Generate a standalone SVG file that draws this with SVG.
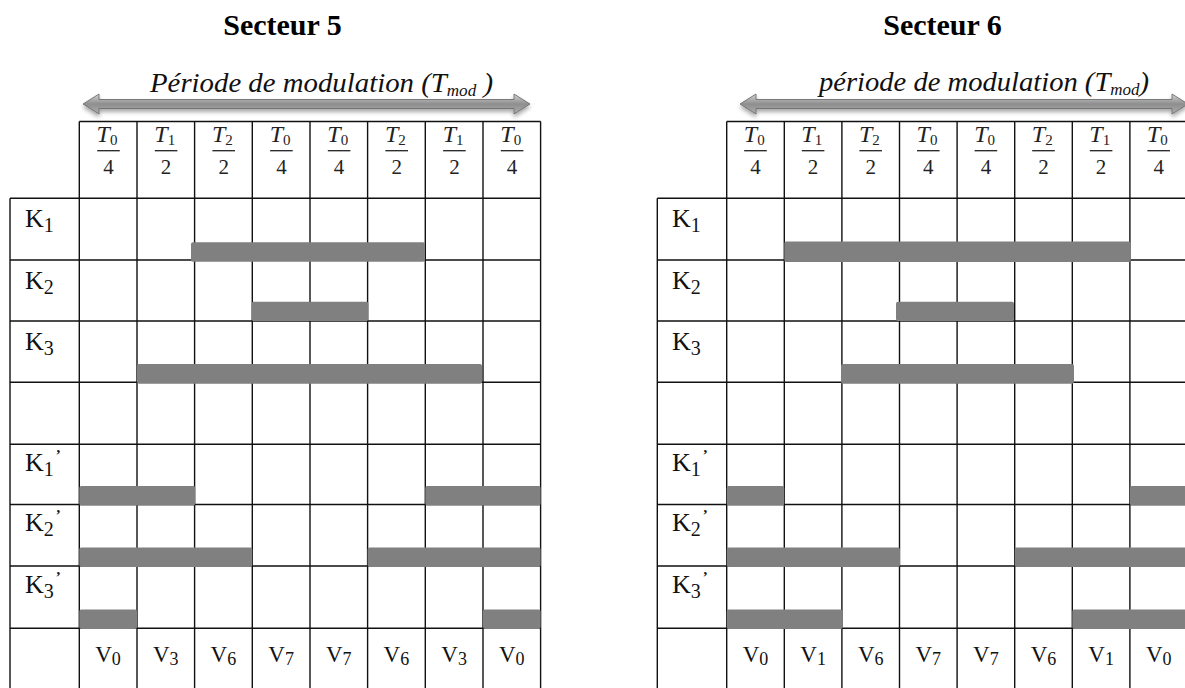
<svg xmlns="http://www.w3.org/2000/svg" width="1185" height="688" viewBox="0 0 1185 688">
<style>
.title{font-family:"Liberation Serif",serif;font-weight:bold;font-size:30px;fill:#000;text-anchor:middle}
.per{font-family:"Liberation Serif",serif;font-style:italic;font-size:27px;fill:#111}
.grid{stroke:#111;stroke-width:1.4;fill:none}
.bar{fill:#808080}
.num{font-family:"Liberation Serif",serif;font-size:24px;fill:#222;text-anchor:middle}
.den{font-family:"Liberation Serif",serif;font-size:21px;fill:#222;text-anchor:middle}
.fb{stroke:#222;stroke-width:1.3}
.lab{font-family:"Liberation Serif",serif;font-size:26px;fill:#111}
.pr{font-size:15px;font-weight:bold}
.vl{font-family:"Liberation Serif",serif;font-size:23px;fill:#111;text-anchor:middle}
.arrow{fill:url(#ag);stroke:#6e6e6e;stroke-width:0.9;filter:url(#sh)}
</style>
<defs>
<linearGradient id="ag" x1="0" y1="0" x2="0" y2="1">
<stop offset="0" stop-color="#d4d4d4"/>
<stop offset="0.5" stop-color="#8e8e8e"/>
<stop offset="1" stop-color="#adadad"/>
</linearGradient>
<filter id="sh" x="-5%" y="-100%" width="110%" height="300%">
<feGaussianBlur in="SourceAlpha" stdDeviation="2"/>
<feOffset dy="3" result="b"/>
<feComponentTransfer><feFuncA type="linear" slope="0.35"/></feComponentTransfer>
<feMerge><feMergeNode/><feMergeNode in="SourceGraphic"/></feMerge>
</filter>
</defs>
<rect width="1185" height="688" fill="#fff"/>

<!-- ===== Secteur 5 ===== -->
<g id="secteur5">
<text class="title" x="282.5" y="35">Secteur 5</text>
<g id="s5-arrow">
<path class="arrow" d="M83,104 L99,94 L99,99.5 L514,99.5 L514,94 L530,104 L514,114 L514,108.5 L99,108.5 L99,114 Z"/>
<text class="per" x="150" y="92" textLength="343" lengthAdjust="spacingAndGlyphs">Période de modulation (<tspan>T</tspan><tspan font-size="16" dy="4">mod</tspan><tspan dy="-4"> )</tspan></text>
</g>
<g id="s5-grid" class="grid">
<path d="M79.3,121.5 H540.6"/>
<path d="M10,198.3 H540.6 M10,260 H540.6 M10,321 H540.6 M10,382.3 H540.6 M10,444.3 H540.6 M10,504.5 H540.6 M10,566 H540.6 M10,628.3 H540.6 M10,690 H540.6"/>
<path d="M10,198.3 V690 M79.3,121.5 V690 M137,121.5 V690 M194.6,121.5 V690 M252.3,121.5 V690 M310,121.5 V690 M367.6,121.5 V690 M425.3,121.5 V690 M483,121.5 V690 M540.6,121.5 V690"/>
</g>
<g id="s5-head">
<text class="num" x="107" y="142"><tspan font-style="italic">T</tspan><tspan font-size="15" dy="3">0</tspan></text><line class="fb" x1="97.2" y1="150.7" x2="119.8" y2="150.7"/><text class="den" x="108.5" y="174">4</text>
<text class="num" x="164.8" y="142"><tspan font-style="italic">T</tspan><tspan font-size="15" dy="3">1</tspan></text><line class="fb" x1="154.8" y1="150.7" x2="177.4" y2="150.7"/><text class="den" x="166.1" y="174">2</text>
<text class="num" x="222.4" y="142"><tspan font-style="italic">T</tspan><tspan font-size="15" dy="3">2</tspan></text><line class="fb" x1="212.4" y1="150.7" x2="235" y2="150.7"/><text class="den" x="223.7" y="174">2</text>
<text class="num" x="280.1" y="142"><tspan font-style="italic">T</tspan><tspan font-size="15" dy="3">0</tspan></text><line class="fb" x1="270.1" y1="150.7" x2="292.7" y2="150.7"/><text class="den" x="281.4" y="174">4</text>
<text class="num" x="337.8" y="142"><tspan font-style="italic">T</tspan><tspan font-size="15" dy="3">0</tspan></text><line class="fb" x1="327.8" y1="150.7" x2="350.4" y2="150.7"/><text class="den" x="339.1" y="174">4</text>
<text class="num" x="395.4" y="142"><tspan font-style="italic">T</tspan><tspan font-size="15" dy="3">2</tspan></text><line class="fb" x1="385.4" y1="150.7" x2="408" y2="150.7"/><text class="den" x="396.7" y="174">2</text>
<text class="num" x="453.1" y="142"><tspan font-style="italic">T</tspan><tspan font-size="15" dy="3">1</tspan></text><line class="fb" x1="443.1" y1="150.7" x2="465.7" y2="150.7"/><text class="den" x="454.4" y="174">2</text>
<text class="num" x="510.8" y="142"><tspan font-style="italic">T</tspan><tspan font-size="15" dy="3">0</tspan></text><line class="fb" x1="500.8" y1="150.7" x2="523.4" y2="150.7"/><text class="den" x="512.1" y="174">4</text>
</g>
<g id="s5-labels">
<text class="lab" x="25" y="227">K<tspan font-size="20" dy="4.5">1</tspan></text>
<text class="lab" x="25" y="289">K<tspan font-size="20" dy="4.5">2</tspan></text>
<text class="lab" x="25" y="350">K<tspan font-size="20" dy="4.5">3</tspan></text>
<text class="lab" x="25" y="471">K<tspan font-size="20" dy="4.5">1</tspan><tspan class="pr" dx="2" dy="-16">’</tspan></text>
<text class="lab" x="25" y="531">K<tspan font-size="20" dy="4.5">2</tspan><tspan class="pr" dx="2" dy="-16">’</tspan></text>
<text class="lab" x="25" y="593">K<tspan font-size="20" dy="4.5">3</tspan><tspan class="pr" dx="2" dy="-16">’</tspan></text>
</g>
<g id="s5-bars">
<rect class="bar" x="191" y="242.3" width="234" height="19.5" rx="2"/>
<rect class="bar" x="251.5" y="301.7" width="117" height="19.3" rx="2"/>
<rect class="bar" x="137" y="364" width="345" height="19.8" rx="2"/>
<rect class="bar" x="79.3" y="486" width="116" height="19.5" rx="2"/>
<rect class="bar" x="425.3" y="486" width="115.3" height="19.5" rx="2"/>
<rect class="bar" x="79.3" y="547.5" width="173" height="19.5" rx="2"/>
<rect class="bar" x="367.6" y="547.5" width="173" height="19.5" rx="2"/>
<rect class="bar" x="79.3" y="609.5" width="57.7" height="19.5" rx="2"/>
<rect class="bar" x="483" y="609.5" width="57.6" height="19.5" rx="2"/>
</g>
<g id="s5-vectors">
<text class="vl" x="108" y="662">V<tspan font-size="18" dy="3">0</tspan></text>
<text class="vl" x="165.8" y="662">V<tspan font-size="18" dy="3">3</tspan></text>
<text class="vl" x="223.4" y="662">V<tspan font-size="18" dy="3">6</tspan></text>
<text class="vl" x="281.1" y="662">V<tspan font-size="18" dy="3">7</tspan></text>
<text class="vl" x="338.8" y="662">V<tspan font-size="18" dy="3">7</tspan></text>
<text class="vl" x="396.4" y="662">V<tspan font-size="18" dy="3">6</tspan></text>
<text class="vl" x="454.1" y="662">V<tspan font-size="18" dy="3">3</tspan></text>
<text class="vl" x="511.8" y="662">V<tspan font-size="18" dy="3">0</tspan></text>
</g>
</g>

<!-- ===== Secteur 6 ===== -->
<g id="secteur6">
<text class="title" x="942.5" y="35">Secteur 6</text>
<g id="s6-arrow">
<path class="arrow" d="M740,104 L756,94 L756,99.5 L1172,99.5 L1172,94 L1188,104 L1172,114 L1172,108.5 L756,108.5 L756,114 Z"/>
<text class="per" x="819" y="91" textLength="330" lengthAdjust="spacingAndGlyphs">période de modulation (<tspan>T</tspan><tspan font-size="16" dy="4">mod</tspan><tspan dy="-4">)</tspan></text>
</g>
<g id="s6-grid" class="grid">
<path d="M726.7,121.5 H1187.5"/>
<path d="M657.3,198.3 H1187.5 M657.3,260 H1187.5 M657.3,321 H1187.5 M657.3,382.3 H1187.5 M657.3,444.3 H1187.5 M657.3,504.5 H1187.5 M657.3,566 H1187.5 M657.3,628.3 H1187.5 M657.3,690 H1187.5"/>
<path d="M657.3,198.3 V690 M726.7,121.5 V690 M784.3,121.5 V690 M841.9,121.5 V690 M899.5,121.5 V690 M957.1,121.5 V690 M1014.7,121.5 V690 M1072.3,121.5 V690 M1129.9,121.5 V690 M1187.5,121.5 V690"/>
</g>
<g id="s6-head">
<text class="num" x="754.2" y="142"><tspan font-style="italic">T</tspan><tspan font-size="15" dy="3">0</tspan></text><line class="fb" x1="744.2" y1="150.7" x2="766.8" y2="150.7"/><text class="den" x="755.5" y="174">4</text>
<text class="num" x="811.8" y="142"><tspan font-style="italic">T</tspan><tspan font-size="15" dy="3">1</tspan></text><line class="fb" x1="801.8" y1="150.7" x2="824.4" y2="150.7"/><text class="den" x="813.1" y="174">2</text>
<text class="num" x="869.4" y="142"><tspan font-style="italic">T</tspan><tspan font-size="15" dy="3">2</tspan></text><line class="fb" x1="859.4" y1="150.7" x2="882" y2="150.7"/><text class="den" x="870.7" y="174">2</text>
<text class="num" x="927" y="142"><tspan font-style="italic">T</tspan><tspan font-size="15" dy="3">0</tspan></text><line class="fb" x1="917" y1="150.7" x2="939.6" y2="150.7"/><text class="den" x="928.3" y="174">4</text>
<text class="num" x="984.6" y="142"><tspan font-style="italic">T</tspan><tspan font-size="15" dy="3">0</tspan></text><line class="fb" x1="974.6" y1="150.7" x2="997.2" y2="150.7"/><text class="den" x="985.9" y="174">4</text>
<text class="num" x="1042.2" y="142"><tspan font-style="italic">T</tspan><tspan font-size="15" dy="3">2</tspan></text><line class="fb" x1="1032.2" y1="150.7" x2="1054.8" y2="150.7"/><text class="den" x="1043.5" y="174">2</text>
<text class="num" x="1099.8" y="142"><tspan font-style="italic">T</tspan><tspan font-size="15" dy="3">1</tspan></text><line class="fb" x1="1089.8" y1="150.7" x2="1112.4" y2="150.7"/><text class="den" x="1101.1" y="174">2</text>
<text class="num" x="1157.4" y="142"><tspan font-style="italic">T</tspan><tspan font-size="15" dy="3">0</tspan></text><line class="fb" x1="1147.4" y1="150.7" x2="1170" y2="150.7"/><text class="den" x="1158.7" y="174">4</text>
</g>
<g id="s6-labels">
<text class="lab" x="672" y="227">K<tspan font-size="20" dy="4.5">1</tspan></text>
<text class="lab" x="672" y="289">K<tspan font-size="20" dy="4.5">2</tspan></text>
<text class="lab" x="672" y="350">K<tspan font-size="20" dy="4.5">3</tspan></text>
<text class="lab" x="672" y="471">K<tspan font-size="20" dy="4.5">1</tspan><tspan class="pr" dx="2" dy="-16">’</tspan></text>
<text class="lab" x="672" y="531">K<tspan font-size="20" dy="4.5">2</tspan><tspan class="pr" dx="2" dy="-16">’</tspan></text>
<text class="lab" x="672" y="593">K<tspan font-size="20" dy="4.5">3</tspan><tspan class="pr" dx="2" dy="-16">’</tspan></text>
</g>
<g id="s6-bars">
<rect class="bar" x="784.3" y="241.5" width="346.5" height="20.5" rx="2"/>
<rect class="bar" x="896" y="301.7" width="118" height="19.3" rx="2"/>
<rect class="bar" x="841" y="364" width="233" height="19.8" rx="2"/>
<rect class="bar" x="726.7" y="486" width="57.6" height="19.5" rx="2"/>
<rect class="bar" x="1129.9" y="486" width="60" height="19.5" rx="2"/>
<rect class="bar" x="726.7" y="547.5" width="173.3" height="19.5" rx="2"/>
<rect class="bar" x="1014.7" y="547.5" width="175" height="19.5" rx="2"/>
<rect class="bar" x="726.7" y="609.5" width="116" height="19.5" rx="2"/>
<rect class="bar" x="1072.3" y="609.5" width="117" height="19.5" rx="2"/>
</g>
<g id="s6-vectors">
<text class="vl" x="755.5" y="662">V<tspan font-size="18" dy="3">0</tspan></text>
<text class="vl" x="813.1" y="662">V<tspan font-size="18" dy="3">1</tspan></text>
<text class="vl" x="870.7" y="662">V<tspan font-size="18" dy="3">6</tspan></text>
<text class="vl" x="928.3" y="662">V<tspan font-size="18" dy="3">7</tspan></text>
<text class="vl" x="985.9" y="662">V<tspan font-size="18" dy="3">7</tspan></text>
<text class="vl" x="1043.5" y="662">V<tspan font-size="18" dy="3">6</tspan></text>
<text class="vl" x="1101.1" y="662">V<tspan font-size="18" dy="3">1</tspan></text>
<text class="vl" x="1158.7" y="662">V<tspan font-size="18" dy="3">0</tspan></text>
</g>
</g>
</svg>
